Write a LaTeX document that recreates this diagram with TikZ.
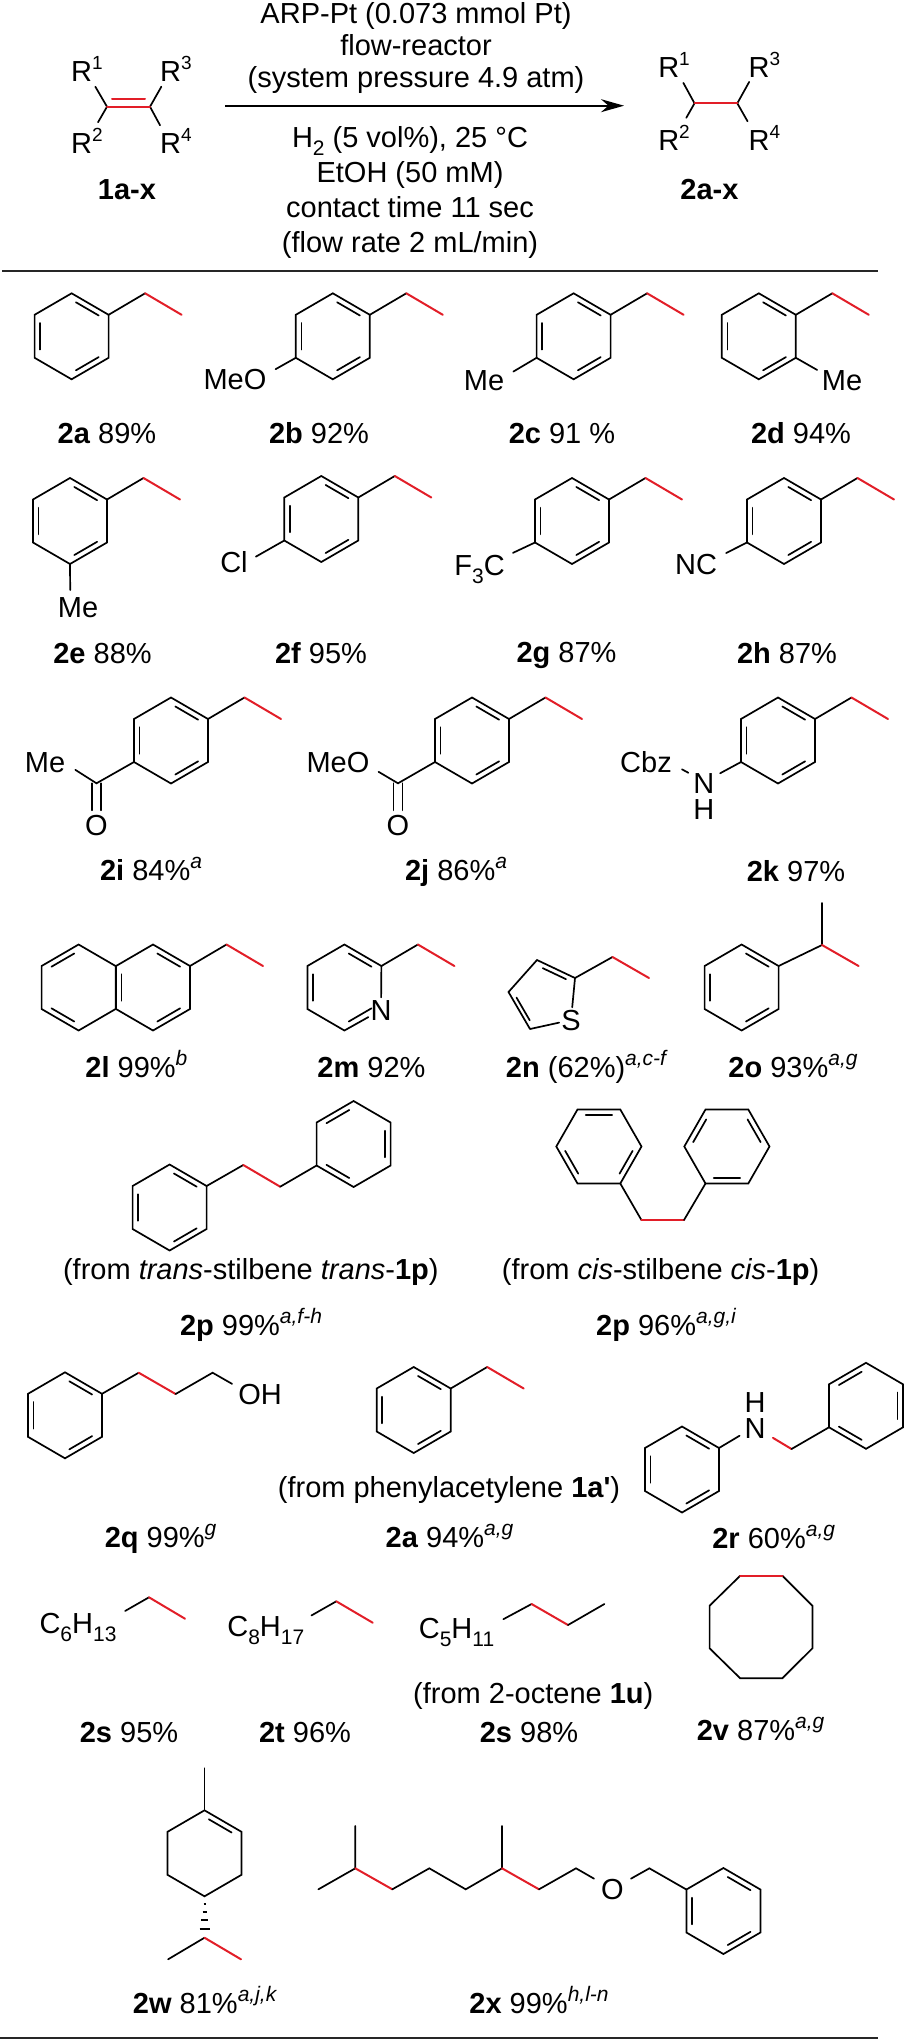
\documentclass[tikz,border=0pt]{standalone}
\usepackage{fontspec}
\setmainfont{Liberation Sans}[Ligatures=TeXOff]
\usetikzlibrary{arrows.meta, calc}
\definecolor{hydro}{RGB}{226,30,40}
\def\basefont{\fontsize{29}{34.5}\selectfont}
\newcommand{\up}[1]{\raisebox{.42em}{\fontsize{19}{19}\selectfont #1}}
\newcommand{\dn}[1]{\raisebox{-.27em}{\fontsize{21}{21}\selectfont #1}}
\newcommand{\note}[1]{\raisebox{.42em}{\fontsize{21}{21}\selectfont\itshape #1}}
% vertex-up ring, corners only
\newcommand{\hexcoords}[3]{
    \coordinate (#1-c) at (#2,#3);
    \coordinate (#1-t) at (#2,#3-43);
    \coordinate (#1-ur) at (#2+37,#3-21.5);
    \coordinate (#1-lr) at (#2+37,#3+21.5);
    \coordinate (#1-b) at (#2,#3+43);
    \coordinate (#1-ll) at (#2-37,#3+21.5);
    \coordinate (#1-ul) at (#2-37,#3-21.5);
}
\newcommand{\hexring}[3]{
    \hexcoords{#1}{#2}{#3}
    \draw[bond] (#1-t) -- (#1-ur) -- (#1-lr) -- (#1-b) -- (#1-ll) -- (#1-ul) -- cycle;
}
\newcommand{\inbond}[3]{\draw[bond,shorten >=5pt,shorten <=5pt] ($(#1)!.15!(#3)$) -- ($(#2)!.15!(#3)$);}
\newcommand{\ringA}[3]{
    \hexring{#1}{#2}{#3}
    \inbond{#1-t}{#1-ur}{#1-c}
    \inbond{#1-lr}{#1-b}{#1-c}
    \inbond{#1-ll}{#1-ul}{#1-c}
}
\newcommand{\ringB}[3]{
    \hexring{#1}{#2}{#3}
    \inbond{#1-t}{#1-ul}{#1-c}
    \inbond{#1-ur}{#1-lr}{#1-c}
    \inbond{#1-b}{#1-ll}{#1-c}
}
% flat-top ring for the cis product
\newcommand{\flatring}[3]{
    \coordinate (#1-c) at (#2,#3);
    \coordinate (#1-1) at (#2-21.4,#3-37);
    \coordinate (#1-2) at (#2+21.4,#3-37);
    \coordinate (#1-3) at (#2+42.6,#3);
    \coordinate (#1-4) at (#2+21.4,#3+37);
    \coordinate (#1-5) at (#2-21.4,#3+37);
    \coordinate (#1-6) at (#2-42.6,#3);
    \draw[bond] (#1-1) -- (#1-2) -- (#1-3) -- (#1-4) -- (#1-5) -- (#1-6) -- cycle;
}
\newcommand{\ethyl}[1]{
    \coordinate (#1-p) at ($(#1-ur)+(36.5,-21.5)$);
    \coordinate (#1-e) at ($(#1-p)+(36.5,21.5)$);
    \draw[bond] (#1-ur) -- (#1-p);
    \draw[redbond] (#1-p) -- (#1-e);
}

\begin{document}
\begin{tikzpicture}[x=1pt,y=-1pt,font=\basefont]
    \tikzstyle{bond}=[line width=1.7pt,line cap=round,line join=miter,draw=black]
    \tikzstyle{redbond}=[bond,line width=2pt,draw=hydro]
    \tikzstyle{txt}=[inner sep=0pt,text height=21pt,text depth=0pt,anchor=center]
    \tikzstyle{atom}=[txt,inner sep=4pt]
    \tikzstyle{rule}=[line width=2.2pt,draw=black!85]
    \useasboundingbox (0,0) rectangle (906,2042);

    % scheme
    \coordinate (lc) at (107,106.7);
    \coordinate (rc) at (150,106.7);
    \node[atom,inner sep=5pt] (R1s) at (87,71) {R\up{1}};
    \node[atom,inner sep=10pt] (R2s) at (87,143) {R\up{2}};
    \node[atom,inner sep=5pt] (R3s) at (176,71) {R\up{3}};
    \node[atom,inner sep=7pt] (R4s) at (176,143) {R\up{4}};
    \draw[bond] (lc) -- (R1s.-62);
    \draw[bond] (lc) -- (R2s.62);
    \draw[bond] (rc) -- (R3s.227);
    \draw[bond] (rc) -- (R4s.132);
    \draw[redbond] (lc) -- (rc);
    \draw[redbond,shorten >=5pt,shorten <=5pt] ($(lc)+(0,-8)$) -- ($(rc)+(0,-8)$);
    \node[txt] (sm) at (127,189) {\textbf{1a-x}};

    \coordinate (as) at (225,105.7);
    \coordinate (ae) at (624,105.7);
    \draw[line width=1.7pt,-{Stealth[length=23pt,width=13pt]}] (as) -- (ae);
    \node[txt] (c1) at (416,13.5) {ARP-Pt (0.073 mmol Pt)};
    \node[txt] (c2) at (416,45) {flow-reactor};
    \node[txt] (c3) at (416,76.5) {(system pressure 4.9 atm)};
    \node[txt] (c4) at (410,137) {H\dn{2} (5 vol\%), 25 °C};
    \node[txt] (c5) at (410,172) {EtOH (50 mM)};
    \node[txt] (c6) at (410,207) {contact time 11 sec};
    \node[txt] (c7) at (410,242) {(flow rate 2 mL/min)};

    \coordinate (plc) at (694.5,103.3);
    \coordinate (prc) at (737.3,103.3);
    \node[atom,inner sep=5.5pt] (R1p) at (674,66.7) {R\up{1}};
    \node[atom,inner sep=11.5pt] (R2p) at (674,140) {R\up{2}};
    \node[atom,inner sep=4.5pt] (R3p) at (764.4,66.7) {R\up{3}};
    \node[atom,inner sep=8pt] (R4p) at (764.4,140) {R\up{4}};
    \draw[bond] (plc) -- (R1p.-60);
    \draw[bond] (plc) -- (R2p.61);
    \draw[bond] (prc) -- (R3p.225);
    \draw[bond] (prc) -- (R4p.132);
    \draw[redbond] (plc) -- (prc);
    \node[txt] (pr) at (709.5,189) {\textbf{2a-x}};

    \coordinate (r1s) at (2,270.7);
    \coordinate (r1e) at (878,270.7);
    \draw[rule] (r1s) -- (r1e);

    % row 1
    \ringA{a}{71.6}{336.3} \ethyl{a}
    \node[txt] (la) at (107,433) {\textbf{2a} 89\%};
    \ringA{b}{332.8}{336.3} \ethyl{b}
    \node[atom,inner sep=9pt] (MeOb) at (235,379.3) {MeO};
    \draw[bond] (b-ll) -- (MeOb.14);
    \node[txt] (lb) at (319,433) {\textbf{2b} 92\%};
    \ringA{c}{573.6}{336.3} \ethyl{c}
    \node[atom,inner sep=9pt] (Mec) at (484,380) {Me};
    \draw[bond] (c-ll) -- (Mec.16);
    \node[txt] (lc2) at (562,433) {\textbf{2c} 91 \%};
    \ringA{d}{758.8}{336.3} \ethyl{d}
    \node[atom,inner sep=4.5pt] (Med) at (842,380) {Me};
    \draw[bond] (d-lr) -- (Med.158);
    \node[txt] (ld) at (801,433) {\textbf{2d} 94\%};

    % row 2
    \ringA{e}{70}{521} \ethyl{e}
    \node[atom,inner sep=6pt] (Mee) at (78,606.7) {Me};
    \draw[bond] (e-b) -- (Mee.115.6);
    \node[txt] (le) at (102.5,652.7) {\textbf{2e} 88\%};
    \ringA{f}{321.3}{519} \ethyl{f}
    \node[atom,inner sep=8pt] (Clf) at (234,561.7) {Cl};
    \draw[bond] (f-ll) -- (Clf.13);
    \node[txt] (lf) at (321,652.7) {\textbf{2f} 95\%};
    \ringA{g}{572}{521} \ethyl{g}
    \node[atom,inner sep=8pt] (CFg) at (479.6,565) {F\dn{3}C};
    \draw[bond] (g-ll) -- (CFg.20);
    \node[txt] (lg) at (566.5,652) {\textbf{2g} 87\%};
    \ringA{h}{784}{521} \ethyl{h}
    \node[atom,inner sep=9pt] (NCh) at (696,564) {NC};
    \draw[bond] (h-ll) -- (NCh.20);
    \node[txt] (lh) at (787,653) {\textbf{2h} 87\%};

    % row 3
    \ringA{i}{171}{740.5} \ethyl{i}
    \coordinate (ico) at (96.5,783.3);
    \node[atom,inner sep=10pt] (Mei) at (45,761.7) {Me};
    \node[atom] (Oi) at (96.5,825) {O};
    \draw[bond] (i-ll) -- (ico) -- (Mei.-15);
    \draw[bond,transform canvas={xshift=-4.5pt}] (ico) -- (Oi);
    \draw[bond,transform canvas={xshift=4.5pt}] (ico) -- (Oi);
    \node[txt] (li) at (151,870) {\textbf{2i} 84\%\note{a}};
    \ringA{j}{472}{740.5} \ethyl{j}
    \coordinate (jco) at (398,783.3);
    \node[atom,inner sep=9pt] (MeOj) at (338,761.7) {MeO};
    \node[atom] (Oj) at (398,825) {O};
    \draw[bond] (j-ll) -- (jco) -- (MeOj.-14);
    \draw[bond,transform canvas={xshift=-4.5pt}] (jco) -- (Oj);
    \draw[bond,transform canvas={xshift=4.5pt}] (jco) -- (Oj);
    \node[txt] (lj) at (456,870) {\textbf{2j} 86\%\note{a}};
    \ringA{k}{778}{740.5} \ethyl{k}
    \node[atom,inner sep=3pt] (Nk) at (703.8,782.6) {N};
    \node[txt] (Hk) at (703.8,809.4) {H};
    \node[atom,inner sep=10pt] (Cbzk) at (646,761.7) {Cbz};
    \draw[bond,shorten >=3pt] (k-ll) -- (Nk.30);
    \draw[bond,shorten >=2pt] (Cbzk.-12) -- (Nk.147);
    \node[txt] (lk) at (796,870.5) {\textbf{2k} 97\%};

    % row 4
    \hexring{m1}{78.6}{987.5}
    \hexring{m2}{153}{987.5}
    \inbond{m1-ul}{m1-t}{m1-c}
    \inbond{m1-ll}{m1-b}{m1-c}
    \inbond{m2-t}{m2-ur}{m2-c}
    \inbond{m2-b}{m2-lr}{m2-c}
    \inbond{m2-ul}{m2-ll}{m2-c}
    \ethyl{m2}
    \node[txt] (ll) at (136.4,1066.7) {\textbf{2l} 99\%\note{b}};
    \hexcoords{p}{344.4}{987.5}
    \node[atom,inner sep=2pt] (Nm) at (381,1010) {N};
    \draw[bond] (p-ur) -- (p-t) -- (p-ul) -- (p-ll) -- (p-b) -- (Nm) -- (p-ur);
    \inbond{p-t}{p-ur}{p-c}
    \inbond{p-ll}{p-ul}{p-c}
    \inbond{p-lr}{p-b}{p-c}
    \ethyl{p}
    \node[txt] (lm) at (371.5,1067) {\textbf{2m} 92\%};
    \coordinate (th2) at (575,978);
    \coordinate (th3) at (537,960);
    \coordinate (th4) at (508.5,992);
    \coordinate (th5) at (530,1029);
    \coordinate (thc) at (545,1000);
    \node[atom,inner sep=2pt] (Sn) at (571,1020) {S};
    \draw[bond] (th5) -- (th4) -- (th3) -- (th2) -- (Sn) -- (th5);
    \inbond{th3}{th2}{thc}
    \inbond{th4}{th5}{thc}
    \coordinate (thp) at (612.5,957);
    \coordinate (the) at (649,978);
    \draw[bond] (th2) -- (thp);
    \draw[redbond] (thp) -- (the);
    \node[txt] (ln) at (586,1067) {\textbf{2n} (62\%)\note{a,c-f}};
    \ringA{o}{741.6}{987.5}
    \coordinate (op) at (822,945);
    \coordinate (om) at (822,903);
    \coordinate (oe) at (858.6,966);
    \draw[bond] (o-ur) -- (op) -- (om);
    \draw[redbond] (op) -- (oe);
    \node[txt] (lo) at (793,1067) {\textbf{2o} 93\%\note{a,g}};

    % stilbenes
    \ringA{q1}{169.6}{1207.5}
    \ringB{q2}{353.6}{1144}
    \coordinate (qa) at (243.3,1165);
    \coordinate (qb) at (280.2,1186.7);
    \draw[bond] (q1-ur) -- (qa);
    \draw[redbond] (qa) -- (qb);
    \draw[bond] (qb) -- (q2-ll);
    \node[txt] (tq) at (250.8,1269.3) {(from \textit{trans}-stilbene \textit{trans}-\textbf{1p})};
    \node[txt] (lq) at (251,1325) {\textbf{2p} 99\%\note{a,f-h}};
    \flatring{u1}{598.9}{1146.5}
    \flatring{u2}{726.9}{1146.5}
    \inbond{u1-1}{u1-2}{u1-c}
    \inbond{u1-3}{u1-4}{u1-c}
    \inbond{u1-5}{u1-6}{u1-c}
    \inbond{u2-2}{u2-3}{u2-c}
    \inbond{u2-4}{u2-5}{u2-c}
    \inbond{u2-6}{u2-1}{u2-c}
    \coordinate (ua) at (641.4,1220);
    \coordinate (ub) at (684,1220);
    \draw[bond] (u1-4) -- (ua);
    \draw[redbond] (ua) -- (ub);
    \draw[bond] (ub) -- (u2-5);
    \node[txt] (tu) at (660.6,1269.3) {(from \textit{cis}-stilbene \textit{cis}-\textbf{1p})};
    \node[txt] (lu) at (666,1325) {\textbf{2p} 96\%\note{a,g,i}};

    % row 6
    \ringA{s}{65}{1415.3}
    \coordinate (sa) at (138.7,1372.7);
    \coordinate (sb) at (175.6,1394);
    \coordinate (sc) at (212.6,1372.7);
    \node[atom,inner sep=6pt] (OHs) at (260,1394) {OH};
    \draw[bond] (s-ur) -- (sa);
    \draw[redbond] (sa) -- (sb);
    \draw[bond] (sb) -- (sc) -- (OHs.160);
    \node[txt] (ls) at (160.6,1536.7) {\textbf{2q} 99\%\note{g}};
    \ringA{v}{413.7}{1410} \ethyl{v}
    \node[txt] (tv) at (449,1486.7) {(from phenylacetylene \textbf{1a'})};
    \node[txt] (lv) at (449.5,1536.7) {\textbf{2a} 94\%\note{a,g}};
    \ringA{w}{682}{1469.5}
    \ringB{y}{866}{1405.8}
    \node[atom,inner sep=3pt] (Nr) at (755,1428.3) {N};
    \node[txt] (Hr) at (755,1401.7) {H};
    \coordinate (rp) at (791.5,1449);
    \draw[bond,shorten >=2pt] (w-ur) -- (Nr.205);
    \draw[redbond,shorten <=5pt] (Nr.-27) -- (rp);
    \draw[bond] (rp) -- (y-ll);
    \node[txt] (lr) at (773.7,1538) {\textbf{2r} 60\%\note{a,g}};

    % aliphatic chains
    \node[atom,inner sep=8.5pt] (C6) at (78,1622.7) {C\dn{6}H\dn{13}};
    \coordinate (c6p) at (149,1597.3);
    \coordinate (c6e) at (185,1618.7);
    \draw[bond] (C6.14) -- (c6p);
    \draw[redbond] (c6p) -- (c6e);
    \node[atom,inner sep=7pt] (C8) at (265.8,1626) {C\dn{8}H\dn{17}};
    \coordinate (c8p) at (336.3,1601.3);
    \coordinate (c8e) at (372.7,1622.7);
    \draw[bond] (C8.13.5) -- (c8p);
    \draw[redbond] (c8p) -- (c8e);
    \node[atom,inner sep=9pt] (C5) at (456.5,1628.3) {C\dn{5}H\dn{11}};
    \coordinate (c5p) at (531.6,1604);
    \coordinate (c5q) at (568,1625);
    \coordinate (c5e) at (604.4,1604);
    \draw[bond] (C5.11) -- (c5p);
    \draw[redbond] (c5p) -- (c5q);
    \draw[bond] (c5q) -- (c5e);
    \node[txt] (toct) at (533.3,1693.3) {(from 2-octene \textbf{1u})};
    \node[txt] (l6) at (129,1731.7) {\textbf{2s} 95\%};
    \node[txt] (l8) at (305,1731.7) {\textbf{2t} 96\%};
    \node[txt] (l5) at (529,1731.7) {\textbf{2s} 98\%};

    \foreach \n/\x/\y in {1/740.2/1575.7,2/782.3/1575.7,3/812.4/1605.7,4/812.4/1648.3,5/782.3/1678.3,6/740.2/1678.3,7/709.6/1648.3,8/709.6/1605.7}
        \coordinate (oc\n) at (\x,\y);
    \draw[bond] (oc2) -- (oc3) -- (oc4) -- (oc5) -- (oc6) -- (oc7) -- (oc8) -- (oc1);
    \draw[redbond] (oc1) -- (oc2);
    \node[txt] (loc) at (760.6,1730) {\textbf{2v} 87\%\note{a,g}};

    % limonene type
    \hexring{z}{204.5}{1853.3}
    \inbond{z-t}{z-ur}{z-c}
    \coordinate (zm) at (204.5,1768.3);
    \coordinate (zp) at (204.5,1937.7);
    \coordinate (zl) at (168.1,1959.3);
    \coordinate (zr) at (241,1959.3);
    \draw[bond] (z-t) -- (zm);
    \foreach \t/\w in {.175/1,.376/2,.576/3.5,.8/5}
        \draw[line width=2pt] ($(z-b)!\t!(zp)$) +(-\w,0) -- +(\w,0);
    \draw[bond] (zp) -- (zl);
    \draw[redbond] (zp) -- (zr);
    \node[txt] (lz) at (204.6,2003.3) {\textbf{2w} 81\%\note{a,j,k}};

    % citronellol ether
    \coordinate (x1) at (318.4,1889.3);
    \coordinate (x2) at (355.3,1868.3);
    \coordinate (x2m) at (355.3,1826);
    \coordinate (x3) at (392.3,1889.3);
    \coordinate (x4) at (429.3,1868.3);
    \coordinate (x5) at (465.7,1889.3);
    \coordinate (x6) at (502,1868.3);
    \coordinate (x6m) at (502,1826);
    \coordinate (x7) at (539,1889.3);
    \coordinate (x8) at (576,1868.3);
    \coordinate (x9) at (649.4,1868.3);
    \node[atom,inner sep=7pt] (Ox) at (612.5,1889.3) {O};
    \ringA{bn}{723.4}{1911}
    \draw[bond] (x1) -- (x2) -- (x2m);
    \draw[redbond] (x2) -- (x3);
    \draw[bond] (x3) -- (x4) -- (x5) -- (x6) -- (x6m);
    \draw[redbond] (x6) -- (x7);
    \draw[bond] (x7) -- (x8) -- (Ox.150);
    \draw[bond] (Ox.30) -- (x9) -- (bn-ul);
    \node[txt] (lx) at (539,2003.3) {\textbf{2x} 99\%\note{h,l-n}};

    \coordinate (r2s) at (0,2038.3);
    \coordinate (r2e) at (878,2038.3);
    \draw[rule] (r2s) -- (r2e);
\end{tikzpicture}
\end{document}
